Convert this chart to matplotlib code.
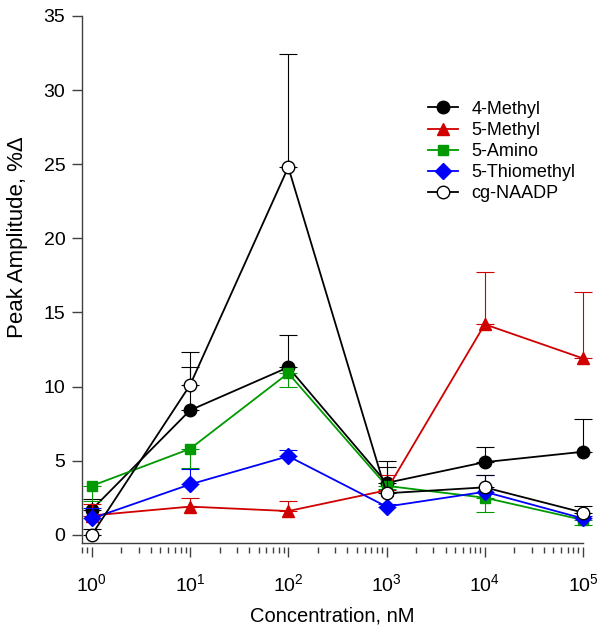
import numpy as np
import matplotlib
matplotlib.use("Agg")
import matplotlib.pyplot as plt
from matplotlib.ticker import LogLocator, NullFormatter

plt.rcParams['font.family'] = ['Liberation Sans', 'DejaVu Sans']

conc = [1, 10, 100, 1000, 10000, 100000]

methyl4 = [1.7, 8.4, 11.3, 3.5, 4.9, 5.6]
methyl4_err = [0.7, 2.9, 2.2, 1.5, 1.0, 2.2]

methyl5 = [1.3, 1.9, 1.6, 3.0, 14.2, 11.9]
methyl5_err = [0.8, 0.55, 0.7, 1.05, 3.5, 4.5]

amino5 = [3.3, 5.8, 10.9, 3.3, 2.5, 1.0]
amino5_err = [1.0, 1.3, 0.95, 0.2, 0.95, 0.35]   # drawn downward

thio5 = [1.1, 3.4, 5.3, 1.9, 2.9, 1.1]
thio5_err = [0.7, 1.05, 0.45, 0.2, 1.1, 0.2]

cg = [0.0, 10.1, 24.8, 2.8, 3.2, 1.5]
cg_err = [0.4, 2.2, 7.6, 1.8, 0.8, 0.45]

fig = plt.figure(figsize=(6.06, 6.38), dpi=100)
ax = fig.add_axes([0.1353, 0.149, 0.8267, 0.826])

series = [
    ("4-Methyl", methyl4, methyl4_err, "k", "o", "k", "up", 9),
    ("5-Methyl", methyl5, methyl5_err, "#d00000", "^", "#d00000", "up", 9),
    ("5-Amino", amino5, amino5_err, "#009a00", "s", "#009a00", "down", 7.5),
    ("5-Thiomethyl", thio5, thio5_err, "#0000ff", "D", "#0000ff", "up", 8),
    ("cg-NAADP", cg, cg_err, "k", "o", "white", "up", 9),
]

for name, vals, err, col, mk, face, side, ms in series:
    err = np.array(err)
    zero = np.zeros_like(err)
    yerr = [zero, err] if side == "up" else [err, zero]
    ax.errorbar(conc, vals, yerr=yerr, fmt="none", ecolor=col, elinewidth=0.8,
                capsize=6.5, capthick=0.8, clip_on=False)
    ax.plot(conc, vals, color=col, lw=1.3, marker=mk, markersize=ms,
            markerfacecolor=face, markeredgecolor=col, markeredgewidth=1.0,
            label=name, clip_on=False)

ax.set_xscale("log")
ax.set_xlim(10 ** -0.1, 1e5)
ax.set_ylim(-0.55, 35)
ax.set_yticks([0, 5, 10, 15, 20, 25, 30, 35])
ax.xaxis.set_major_locator(LogLocator(base=10, numticks=10))
ax.xaxis.set_minor_locator(LogLocator(base=10, subs=np.arange(2, 10), numticks=10))
ax.xaxis.set_minor_formatter(NullFormatter())

# x axis line sits at the plot bottom, its ticks hang a little below it
ax.spines["top"].set_visible(False)
ax.spines["right"].set_visible(False)
ax.spines["bottom"].set_position(("outward", 3))
ax.spines["bottom"].set_visible(False)
ax.spines["left"].set_color("#404040")
ax.spines["left"].set_linewidth(1.0)
ax.axhline(-0.55, color="#404040", lw=1.0, clip_on=False)

ax.tick_params(axis="y", which="major", direction="out", length=7, width=1.0,
               color="#404040", labelsize=14, pad=5)
ax.tick_params(axis="x", which="major", direction="out", length=7, width=1.0,
               color="#404040", labelsize=14, pad=12)
ax.tick_params(axis="x", which="minor", direction="out", length=4, width=1.0,
               color="#404040")

ax.set_xlabel("Concentration, nM", fontsize=14.5)
ax.set_ylabel("Peak Amplitude, %Δ", fontsize=16)
ax.xaxis.set_label_coords(0.5, -0.121)
ax.yaxis.set_label_coords(-0.108, 0.58)

ax.legend(loc="upper left", bbox_to_anchor=(0.69, 0.839), frameon=False,
          fontsize=13, handlelength=1.66, handletextpad=0.78, labelspacing=0.23,
          borderpad=0, borderaxespad=0)

fig.savefig("out.png", dpi=100)
